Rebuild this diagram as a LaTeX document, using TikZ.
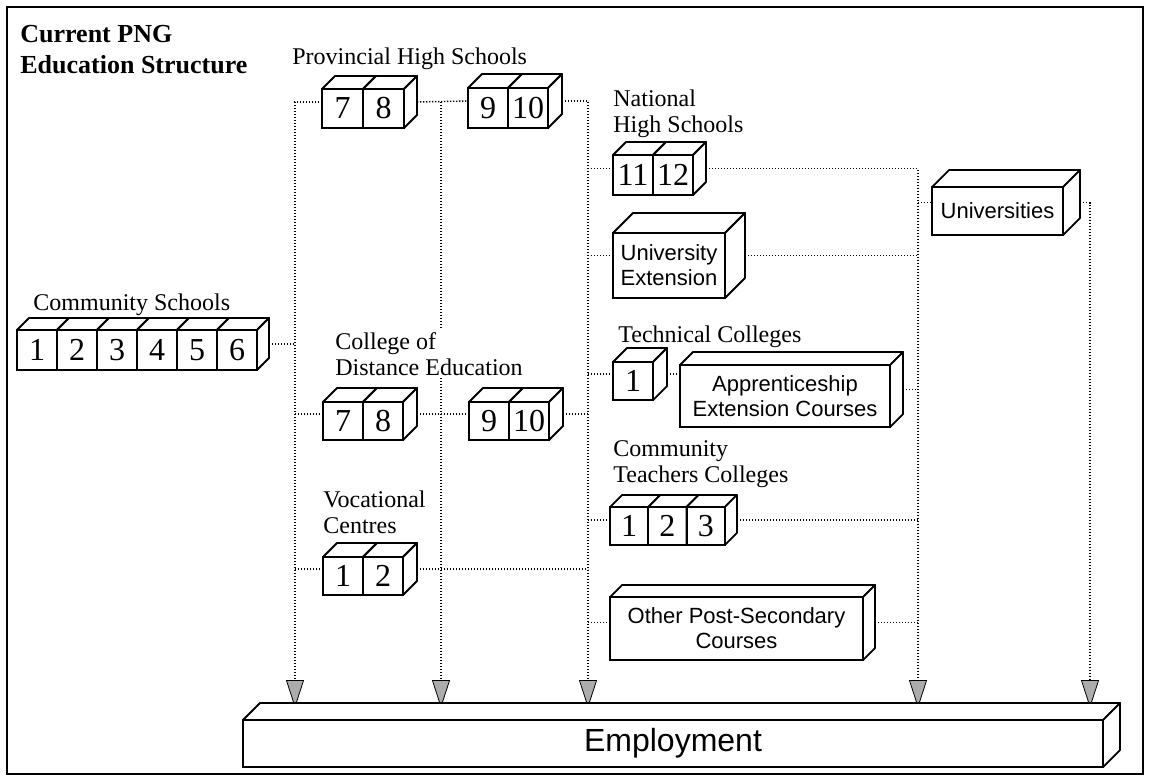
\documentclass[tikz,border=0pt]{standalone}
\usepackage{fontspec}
\setmainfont{Liberation Serif}
\setsansfont{Liberation Sans}
\usetikzlibrary{arrows.meta,calc,backgrounds}

\tikzset{
  cell/.style={draw, line width=0.9pt, fill=white, anchor=north west, outer sep=0pt, inner sep=0pt, font=\fontsize{16}{16}\selectfont},
  slabfront/.style={draw, line width=0.9pt, fill=white, anchor=north west, outer sep=0pt, inner sep=0pt, align=center, font=\sffamily\fontsize{11}{12.5}\selectfont},
  face/.style={draw, line width=0.9pt, fill=white, line join=round},
  lab/.style={anchor=north west, align=left, inner sep=1pt, fill=white, font=\fontsize{12}{13}\selectfont},
  flow/.style={line width=0.7pt, dash pattern=on 0.7pt off 0.8pt},
  flowdown/.style={flow, -{Triangle[length=14pt, width=9pt, fill=gray!65, line width=0.4pt]}},
}

% row of school-year cubes: name, x, y, cell width, height, depth, years
\newcommand{\cuberow}[7]{%
  \coordinate (#1-in) at (#2,{#3+#5/2-#6/2});
  \foreach \cellno [count=\i] in {#7}{
    \node[cell, minimum width={#4*0.5pt}, minimum height={#5*0.5pt}] (#1-\i) at ({#2+(\i-1)*#4},#3) {\cellno};
    \draw[face] (#1-\i.north west) -- ++(#6,-#6) -- ($(#1-\i.north east)+(#6,-#6)$) -- (#1-\i.north east) -- cycle;
    \draw[face] (#1-\i.north east) -- ++(#6,-#6) -- ($(#1-\i.south east)+(#6,-#6)$) -- (#1-\i.south east) -- cycle;
    \coordinate (#1-out) at ({#2+\i*#4+#6},{#3+#5/2-#6/2});
  }
}

% labelled 3d box: [options] name, x, y, width, height, depth, text
\newcommand{\slab}[8][]{%
  \node[slabfront, #1, minimum width={#5*0.5pt}, minimum height={#6*0.5pt}] (#2) at (#3,#4) {#8};
  \draw[face] (#2.north west) -- ++(#7,-#7) -- ($(#2.north east)+(#7,-#7)$) -- (#2.north east) -- cycle;
  \draw[face] (#2.north east) -- ++(#7,-#7) -- ($(#2.south east)+(#7,-#7)$) -- (#2.south east) -- cycle;
  \coordinate (#2-in) at ($(#2.west)+(0,-#7/2)$);
  \coordinate (#2-out) at ($(#2.east)+(#7,-#7/2)$);
}

\begin{document}
\begin{tikzpicture}[x=0.5pt, y=-0.5pt]
\useasboundingbox (0,0) rectangle (1150,783);
\draw[line width=0.8pt] (7,7) rectangle (1143,774);

% labels
\node[lab, font=\bfseries\fontsize{13}{15.5}\selectfont] (title) at (18,23) {Current PNG\\Education Structure};
\node[lab] (lphs) at (290,45) {Provincial High Schools};
\node[lab] (lnhs) at (611,87) {National\\High Schools};
\node[lab] (lcs) at (31,291) {Community Schools};
\node[lab] (lcde) at (333,330) {College of\\Distance Education};
\node[lab] (lvoc) at (321,488) {Vocational\\Centres};
\node[lab] (ltc) at (616,323) {Technical Colleges};
\node[lab] (lctc) at (611,438) {Community\\Teachers Colleges};

% year blocks
\cuberow{cs}{17}{330}{40}{40}{12}{1,2,3,4,5,6}
\cuberow{phs}{322}{89}{41}{39}{13}{7,8}
\cuberow{phsb}{468}{88}{40}{40}{14}{9,10}
\cuberow{nhs}{613}{155}{40}{40}{13}{11,12}
\cuberow{cde}{323}{402}{40}{38}{14}{7,8}
\cuberow{cdeb}{469}{402}{40}{38}{14}{9,10}
\cuberow{voc}{323}{557}{40}{38}{14}{1,2}
\cuberow{tc}{613}{362}{40}{38}{14}{1}
\cuberow{ctc}{610}{507}{38.3}{38}{12}{1,2,3}

% other boxes
\slab{univ}{932}{187}{131}{48}{17}{Universities}
\slab{uext}{613}{233}{112}{65}{20}{University\\Extension}
\slab{appr}{680}{365}{210}{62}{13}{Apprenticeship\\Extension Courses}
\slab{other}{610}{597}{253}{63}{12}{Other Post-Secondary\\Courses}
\slab[font=\sffamily\fontsize{16}{18}\selectfont]{emp}{243}{720}{860}{47}{17}{Employment}

% arrow ends on employment
\coordinate (t1) at (295,708);
\coordinate (t2) at (441,708);
\coordinate (t3) at (588,708);
\coordinate (t4) at (918,708);
\coordinate (t5) at (1090,708);

\begin{scope}[on background layer]
\draw[flowdown] (phs-in) -| (t1);
\draw[flow] (cs-out) -- (cs-out -| t1);
\draw[flow] (cde-in) -- (cde-in -| t1);
\draw[flow] (voc-in) -- (voc-in -| t1);
\draw[flow] (phs-out) -- (phsb-in);
\draw[flowdown] (phs-out -| t2) -- (t2);
\draw[flow] (cde-out) -- (cdeb-in);
\draw[flowdown] (phsb-out) -| (t3);
\draw[flow] (voc-out) -- (voc-out -| t3);
\draw[flow] (cdeb-out) -- (cdeb-out -| t3);
\draw[flow] (nhs-in -| t3) -- (nhs-in);
\draw[flow] (uext-in -| t3) -- (uext-in);
\draw[flow] (tc-in -| t3) -- (tc-in);
\draw[flow] (ctc-in -| t3) -- (ctc-in);
\draw[flow] (other-in -| t3) -- (other-in);
\draw[flow] (tc-out) -- (tc-out -| appr.west);
\draw[flowdown] (nhs-out) -| (t4);
\draw[flow] (univ-in -| t4) -- (univ-in);
\draw[flow] (uext-out) -- (uext-out -| t4);
\draw[flow] (appr-out) -- (appr-out -| t4);
\draw[flow] (ctc-out) -- (ctc-out -| t4);
\draw[flow] (other-out) -- (other-out -| t4);
\draw[flowdown] (univ-out) -| (t5);
\end{scope}
\end{tikzpicture}
\end{document}
